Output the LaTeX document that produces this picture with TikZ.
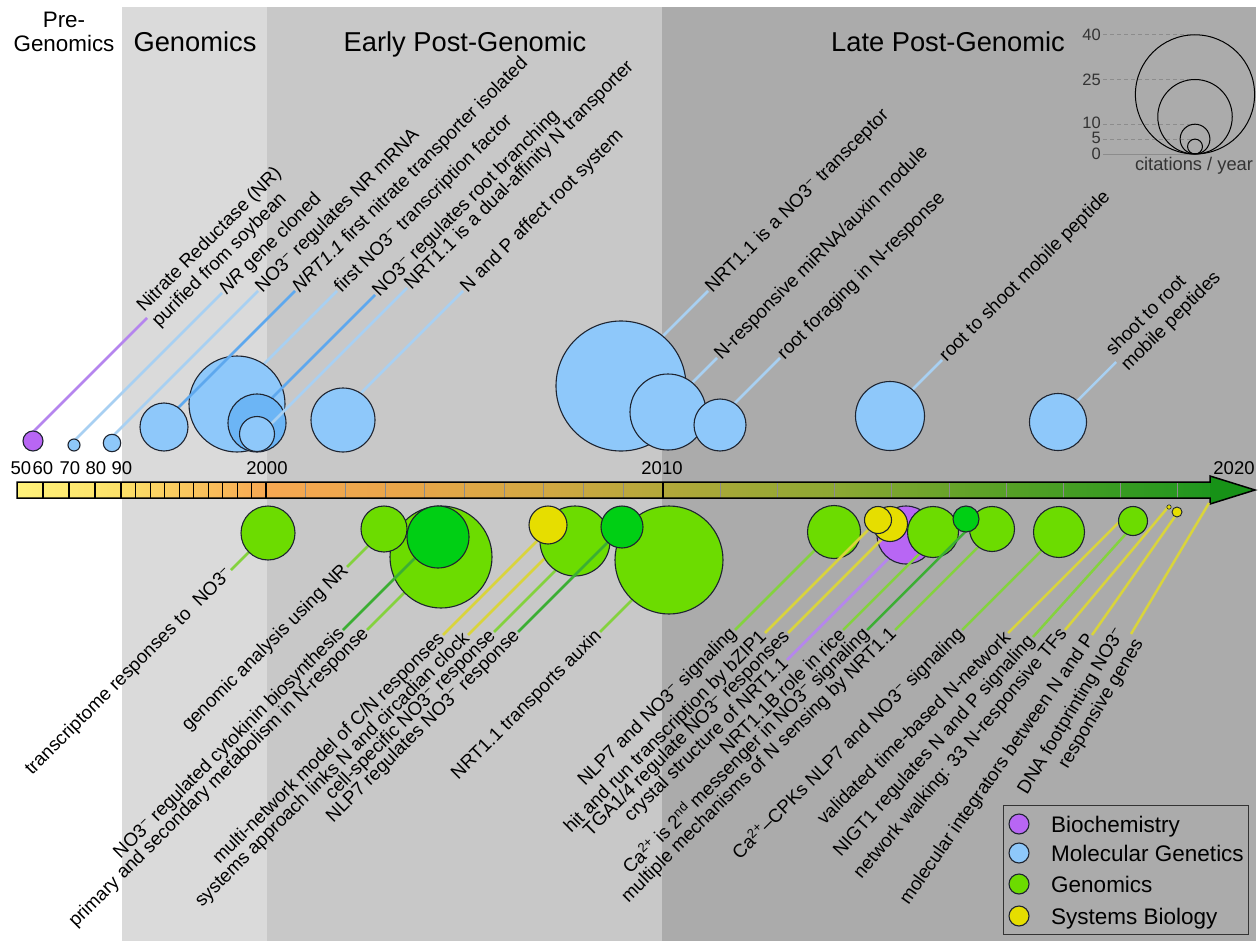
\documentclass[tikz,border=0pt]{standalone}
\usepackage{fontspec}
\setmainfont{Liberation Sans}
\usetikzlibrary{calc}
\definecolor{bandA}{HTML}{DADADA}
\definecolor{bandB}{HTML}{C8C8C8}
\definecolor{bandC}{HTML}{ABABAB}
\definecolor{molfill}{HTML}{8EC8FA}
\definecolor{molfillB}{HTML}{6CB5F5}
\definecolor{biofill}{HTML}{B866F4}
\definecolor{genfill}{HTML}{6CDC00}
\definecolor{gendark}{HTML}{00CF14}
\definecolor{sysfill}{HTML}{E6DE00}
\definecolor{edge}{HTML}{1E2430}
\definecolor{molline}{HTML}{A8D0F2}
\definecolor{mollineB}{HTML}{5EA8EE}
\definecolor{bioline}{HTML}{B585EE}
\definecolor{genline}{HTML}{84D23E}
\definecolor{genlineB}{HTML}{3CAE34}
\definecolor{sysline}{HTML}{D9D43C}
\definecolor{sA}{HTML}{FFF27A}
\definecolor{sB}{HTML}{FCE068}
\definecolor{sC}{HTML}{F7A852}
\definecolor{sD}{HTML}{E9A64A}
\definecolor{sE}{HTML}{D3A843}
\definecolor{sF}{HTML}{B3A83A}
\definecolor{sG}{HTML}{8DA833}
\definecolor{sH}{HTML}{58A126}
\definecolor{sI}{HTML}{1E961E}
\definecolor{sJ}{HTML}{179217}
\newcommand\lblfont{\fontsize{18.8}{21.5}\selectfont}
\newcommand\NOthree{NO3\textsuperscript{−}}
\newcommand\leadline[4]{%
  \draw[lead,#1] let \p1=(#2) in (\p1) -- ($(\p1)!(#3)!({\x1+10pt*cos(#4)},{\y1+10pt*sin(#4)})$);}
\tikzset{
  bub/.style={circle, draw=edge, line width=1.1pt, inner sep=0pt, outer sep=0pt, minimum size=2*#1},
  lbl/.style={font=\lblfont, inner sep=1.5pt, text=black},
  lead/.style={line width=2.5pt, line cap=butt},
  hdr/.style={font=\fontsize{27.3}{30}\selectfont, anchor=base, inner sep=0pt},
  yr/.style={font=\fontsize{18.5}{20}\selectfont, anchor=base, inner sep=0pt},
  scl/.style={font=\fontsize{16.5}{18}\selectfont, text=black!80, anchor=east, inner sep=1pt},
  tickgray/.style={draw=black!45, line width=1pt},
  leg/.style={font=\fontsize{22.5}{26}\selectfont, anchor=base west, inner sep=0pt}
}
\begin{document}
\begin{tikzpicture}[x=1pt,y=-1pt]
\useasboundingbox (0,0) rectangle (1260,941);
\fill[white] (0,0) rectangle (1260,941);
\fill[bandA] (122,7) rectangle (267,941);
\fill[bandB] (267,7) rectangle (662,941);
\fill[bandC] (662,7) rectangle (1256,941);

% headers
\node[hdr, font=\fontsize{22.4}{26}\selectfont] (hpre1) at (64,28) {Pre-};
\node[hdr, font=\fontsize{22.4}{26}\selectfont] (hpre2) at (64,52) {Genomics};
\node[hdr] (hgen) at (195,52) {Genomics};
\node[hdr] (hearly) at (465,52) {Early Post-Genomic};
\node[hdr] (hlate) at (948,52) {Late Post-Genomic};

% citation scale
\foreach \v/\r/\yy in {40/59.6/34.8, 25/37.25/79.5, 10/14.9/124.2, 5/7.45/139.1}{
  \draw[black!45, line width=0.8pt, dash pattern=on 4pt off 3pt] (1103,\yy) -- (1195,\yy);
}
\draw[black!45, line width=0.8pt] (1103,154) -- (1195,154);
\foreach \r in {59.6,37.25,14.9,7.45}{
  \draw[black, line width=1pt] (1195,{154-\r}) circle[radius=\r];
}
\node[scl] (s40) at (1102,35) {40};
\node[scl] (s25) at (1102,80) {25};
\node[scl] (s10) at (1102,123) {10};
\node[scl] (s5) at (1102,138) {5};
\node[scl] (s0) at (1102,154) {0};
\node[font=\fontsize{18.3}{20}\selectfont, text=black!80, anchor=base, inner sep=0pt] (cit) at (1194,171) {citations / year};

% timeline bar
\fill[left color=sA, right color=sB] (17,482) rectangle (121,498);
\fill[left color=sB, right color=sC] (121,482) rectangle (266,498);
\fill[left color=sC, right color=sD] (266,482) rectangle (400,498);
\fill[left color=sD, right color=sE] (400,482) rectangle (540,498);
\fill[left color=sE, right color=sF] (540,482) rectangle (662,498);
\fill[left color=sF, right color=sG] (662,482) rectangle (834,498);
\fill[left color=sG, right color=sH] (834,482) rectangle (1000,498);
\fill[left color=sH, right color=sI] (1000,482) rectangle (1211,498);
\fill[sJ] (1210,476) -- (1255,490) -- (1210,504) -- cycle;
\foreach \x in {43,69,95}{\draw[black, line width=1.2pt] (\x,482) -- (\x,498);}
\draw[black, line width=1.6pt] (121,482) -- (121,498);
\foreach \k in {1,...,9}{\draw[black, line width=0.9pt] ({121+14.5*\k},482) -- ({121+14.5*\k},498);}
\draw[black, line width=1.8pt] (266,482) -- (266,498);
\foreach \k in {1,...,9}{\draw[tickgray] ({266+39.7*\k},482) -- ({266+39.7*\k},498);}
\draw[black, line width=2pt] (663,482) -- (663,498);
\foreach \k in {1,...,9}{\draw[tickgray] ({663+57.2*\k},482) -- ({663+57.2*\k},498);}
\draw[black, line width=1.5pt, line join=miter] (17,482) -- (1210,482) -- (1210,476) -- (1255,490) -- (1210,504) -- (1210,498) -- (17,498) -- cycle;
\node[yr] (y50) at (21,474) {50};
\node[yr] (y60) at (43,474) {60};
\node[yr] (y70) at (70,474) {70};
\node[yr] (y80) at (96,474) {80};
\node[yr] (y90) at (122,474) {90};
\node[yr] (y2000) at (267,474) {2000};
\node[yr] (y2010) at (662,474) {2010};
\node[yr] (y2020) at (1234,474) {2020};

% ---------- top: molecular genetics & biochemistry ----------
\coordinate (c1) at (33,441);
\node[lbl, rotate=45, anchor=west, align=left] (T1) at (147,318) {Nitrate Reductase (NR)\\purified from soybean};
\leadline{bioline}{T1.west}{c1}{45}
\node[bub=10, fill=biofill] (t1) at (c1) {};

\coordinate (c2) at (74,445);
\node[lbl, rotate=45, anchor=west] (T2) at (222,293) {\textit{NR} gene cloned};
\leadline{molline}{T2.west}{c2}{45}
\node[bub=6, fill=molfill] (t2) at (c2) {};

\coordinate (c3) at (112,443);
\node[lbl, rotate=45, anchor=west] (T3) at (258,291) {\NOthree{} regulates NR mRNA};
\leadline{molline}{T3.west}{c3}{45}
\node[bub=8.7, fill=molfill] (t3) at (c3) {};

\coordinate (c5) at (237,404);
\node[lbl, rotate=45, anchor=west] (T5) at (337,291) {first \NOthree{} transcription factor};
\leadline{molline}{T5.west}{c5}{45}
\node[bub=48, fill=molfill] (t5) at (c5) {};

\coordinate (c4) at (164,427);
\node[lbl, rotate=45, anchor=west] (T4) at (295,291) {\textit{NRT1.1} first nitrate transporter isolated};
\leadline{mollineB}{T4.west}{c4}{45}
\node[bub=24, fill=molfill] (t4) at (c4) {};

\coordinate (c6) at (257,423);
\node[lbl, rotate=45, anchor=west] (T6) at (375,295) {\NOthree{} regulates root branching};
\leadline{mollineB}{T6.west}{c6}{45}
\node[bub=29, fill=molfillB] (t6) at (c6) {};

\coordinate (c7) at (257,434);
\node[lbl, rotate=45, anchor=west] (T7) at (407,288) {NRT1.1 is a dual-affinity N transporter};
\leadline{molline}{T7.west}{c7}{45}
\node[bub=17.5, fill=molfill] (t7) at (c7) {};

\coordinate (c8) at (343,420);
\node[lbl, rotate=45, anchor=west] (T8) at (463,291) {N and P affect root system};
\leadline{molline}{T8.west}{c8}{45}
\node[bub=32, fill=molfill] (t8) at (c8) {};

\coordinate (c9) at (621,386);
\node[lbl, rotate=45, anchor=west] (T9) at (708,291) {NRT1.1 is a \NOthree{} transceptor};
\leadline{molline}{T9.west}{c9}{45}
\node[bub=65, fill=molfill] (t9) at (c9) {};

\coordinate (c10) at (668,412);
\node[lbl, rotate=45, anchor=west] (T10) at (717,358) {N-responsive miRNA/auxin module};
\leadline{molline}{T10.west}{c10}{45}
\node[bub=38, fill=molfill] (t10) at (c10) {};

\coordinate (c11) at (720,425);
\node[lbl, rotate=45, anchor=west] (T11) at (780,358) {root foraging in N-response};
\leadline{molline}{T11.west}{c11}{45}
\node[bub=26, fill=molfill] (t11) at (c11) {};

\coordinate (c12) at (890,416);
\node[lbl, rotate=45, anchor=west] (T12) at (942,360) {root to shoot mobile peptide};
\leadline{molline}{T12.west}{c12}{45}
\node[bub=34.5, fill=molfill] (t12) at (c12) {};

\coordinate (c13) at (1058,422);
\node[lbl, rotate=45, anchor=west, align=left] (T13) at (1116,362) {shoot to root\\mobile peptides};
\leadline{molline}{T13.west}{c13}{45}
\node[bub=28.5, fill=molfill] (t13) at (c13) {};

% ---------- bottom: genomics & systems biology ----------
\coordinate (d1) at (268,533);
\node[lbl, rotate=45, anchor=east] (b1) at (231,570) {transcriptome responses to\hspace{0.3em} \NOthree};
\leadline{genline}{b1.east}{d1}{45}
\node[bub=27, fill=genfill] (B1) at (d1) {};

\coordinate (d3) at (441,557);
\node[lbl, rotate=45, anchor=east] (b4) at (367,630) {primary and secondary metabolism in N-response};
\leadline{genline}{b4.east}{d3}{45}
\node[bub=51, fill=genfill] (B3) at (d3) {};

\coordinate (d2) at (384,529);
\node[lbl, rotate=45, anchor=east] (b2) at (347,567) {genomic analysis using NR};
\leadline{genline}{b2.east}{d2}{45}
\node[bub=23, fill=genfill] (B2) at (d2) {};

\coordinate (d4) at (438,537);
\node[lbl, rotate=45, anchor=east] (b3) at (343,630) {\NOthree{} regulated cytokinin biosynthesis};
\leadline{genlineB}{b3.east}{d4}{45}
\node[bub=31, fill=gendark] (B4) at (d4) {};

\coordinate (d6) at (575,541);
\node[lbl, rotate=45, anchor=east] (b6) at (468,635) {systems approach links N and circadian clock};
\leadline{sysline}{b6.east}{d6}{45}
\node[lbl, rotate=45, anchor=east] (b7) at (494,632) {cell-specific \NOthree{} response};
\leadline{genline}{b7.east}{d6}{45}
\node[bub=35, fill=genfill] (B6) at (d6) {};

\coordinate (d5) at (548,525);
\node[lbl, rotate=45, anchor=east] (b5) at (443,635) {multi-network model of C/N responses};
\leadline{sysline}{b5.east}{d5}{45}
\node[bub=19, fill=sysfill] (B5) at (d5) {};

\coordinate (d8) at (669,560);
\node[lbl, rotate=45, anchor=east] (b9) at (600,632) {NRT1.1 transports auxin};
\leadline{genline}{b9.east}{d8}{45}
\node[bub=54, fill=genfill] (B8) at (d8) {};

\coordinate (d7) at (622,527);
\node[lbl, rotate=45, anchor=east] (b8) at (518,632) {NLP7 regulates \NOthree{} response};
\leadline{genlineB}{b8.east}{d7}{45}
\node[bub=21, fill=gendark] (B7) at (d7) {};

\coordinate (e1) at (834,532);
\node[lbl, rotate=45, anchor=east] (b10) at (735,630) {NLP7 and \NOthree{} signaling};
\leadline{genline}{b10.east}{e1}{45}
\node[bub=26.5, fill=genfill] (C1) at (e1) {};

\coordinate (ep) at (906,535);
\node[lbl, rotate=45, anchor=east] (b13) at (787,660) {crystal structure of NRT1.1};
\leadline{bioline}{b13.east}{ep}{45}
\node[bub=29, fill=biofill] (P) at (ep) {};

\coordinate (ey2) at (890,524);
\node[lbl, rotate=45, anchor=east] (b12) at (788,633) {TGA1/4 regulate \NOthree{} responses};
\leadline{sysline}{b12.east}{ey2}{45}
\node[bub=17.5, fill=sysfill] (Y2) at (ey2) {};

\coordinate (ey1) at (878,520);
\node[lbl, rotate=45, anchor=east] (b11) at (765,633) {hit and run transcription by bZIP1};
\leadline{sysline}{b11.east}{ey1}{45}
\node[bub=13.5, fill=sysfill] (Y1) at (ey1) {};

\coordinate (e2) at (933,532);
\node[lbl, rotate=45, anchor=east] (b14) at (843,630) {NRT1.1B role in rice};
\leadline{genline}{b14.east}{e2}{45}
\node[bub=25.5, fill=genfill] (C2) at (e2) {};

\coordinate (e3) at (992,529);
\node[lbl, rotate=45, anchor=east] (b16) at (895,630) {multiple mechanisms of N sensing by NRT1.1};
\leadline{genline}{b16.east}{e3}{45}
\node[bub=22.5, fill=genfill] (C3) at (e3) {};

\coordinate (ed) at (966,519);
\node[lbl, rotate=45, anchor=east] (b15) at (867,630) {Ca\textsuperscript{2+} is 2\textsuperscript{nd} messenger in \NOthree{} signaling};
\leadline{genlineB}{b15.east}{ed}{45}
\node[bub=13, fill=gendark] (D) at (ed) {};

\coordinate (e4) at (1059,532);
\node[lbl, rotate=45, anchor=east] (b17) at (962,630) {Ca\textsuperscript{2+}–CPKs NLP7 and \NOthree{} signaling};
\leadline{genline}{b17.east}{e4}{45}
\node[bub=25.5, fill=genfill] (C4) at (e4) {};

\coordinate (e5) at (1133,521);
\node[lbl, rotate=45, anchor=east] (b18) at (1008,633) {validated time-based N-network};
\leadline{sysline}{b18.east}{e5}{45}
\node[lbl, rotate=48, anchor=east] (b19) at (1033,637) {NIGT1 regulates N and P signaling};
\leadline{genline}{b19.east}{e5}{48}
\node[bub=14.5, fill=genfill] (C5) at (e5) {};

\coordinate (eyt) at (1169,507);
\node[lbl, rotate=50, anchor=east] (b20) at (1065,630) {network walking: 33 N-responsive TFs};
\leadline{sysline}{b20.east}{eyt}{50}
\node[bub=2.2, fill=sysfill, line width=0.6pt] (Yt) at (eyt) {};

\coordinate (eys) at (1177,512);
\node[lbl, rotate=55, anchor=east] (b21) at (1092,635) {molecular integrators between N and P};
\leadline{sysline}{b21.east}{eys}{55}
\node[bub=5, fill=sysfill, line width=0.9pt] (Ys) at (eys) {};

\coordinate (dnaend) at (1209,503);
\node[lbl, rotate=59, anchor=east, align=right] (b22) at (1131,634) {DNA footprinting \NOthree{}\\responsive genes};
\draw[lead, sysline] (b22.east) -- (dnaend);

% legend
\draw[black!80, line width=1pt] (1003,805) rectangle (1248,934);
\node[bub=10, fill=biofill] (g1) at (1019,824) {};
\node[bub=10, fill=molfill] (g2) at (1019,853) {};
\node[bub=10, fill=genfill] (g3) at (1019,884) {};
\node[bub=10, fill=sysfill] (g4) at (1019,916) {};
\node[leg] (G1) at (1051,832) {Biochemistry};
\node[leg] (G2) at (1051,861) {Molecular Genetics};
\node[leg] (G3) at (1051,892) {Genomics};
\node[leg] (G4) at (1051,924) {Systems Biology};
\end{tikzpicture}
\end{document}
